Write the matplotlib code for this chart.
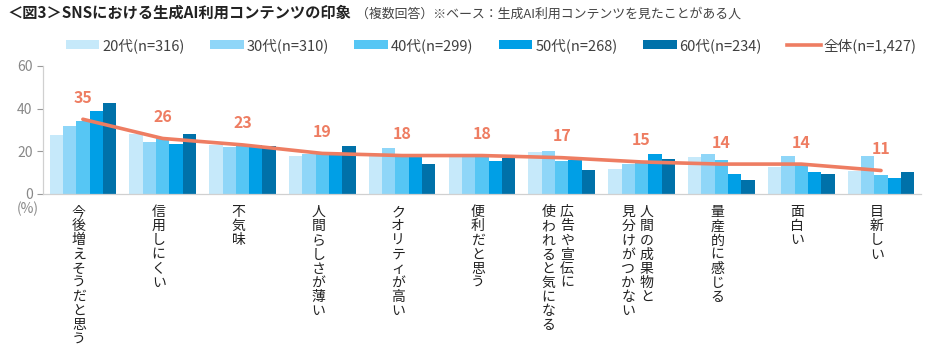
import numpy as np
import matplotlib
matplotlib.use("Agg")
import matplotlib.pyplot as plt
from matplotlib.patches import Patch
from matplotlib.lines import Line2D

plt.rcParams['font.family'] = ['Noto Sans CJK JP', 'DejaVu Sans']

categories = ['今後増えそうだと思う', '信用しにくい', '不気味', '人間らしさが薄い', 'クオリティが高い',
              '便利だと思う', '広告や宣伝に\n使われると気になる', '人間の成果物と\n見分けがつかない',
              '量産的に感じる', '面白い', '目新しい']
series_names = ['20代(n=316)', '30代(n=310)', '40代(n=299)', '50代(n=268)', '60代(n=234)']
age20 = [27.5, 28.0, 22.8, 17.7, 18.5, 17.5, 19.7, 11.6, 17.2, 12.8, 10.8]
age30 = [31.7, 24.4, 22.0, 18.5, 21.3, 17.5, 20.0, 13.9, 18.8, 18.0, 17.8]
age40 = [34.4, 26.0, 22.5, 18.9, 18.1, 17.5, 15.3, 15.0, 15.8, 13.5, 8.9]
age50 = [38.8, 23.2, 22.8, 18.9, 17.3, 15.5, 15.8, 18.8, 9.2, 10.3, 7.6]
age60 = [42.8, 28.0, 22.5, 22.5, 14.2, 16.9, 11.0, 16.6, 6.6, 9.2, 10.2]
total_name = '全体(n=1,427)'
total = [35, 26, 23, 19, 18, 18, 17, 15, 14, 14, 11]

colors = ['#C6E9FA', '#8FD6F8', '#56C6F4', '#009FE6', '#0071A9']
line_color = '#EE7D62'

fig = plt.figure(figsize=(9.34, 3.54), dpi=100)
ax = fig.add_axes([0.046, 0.452, 0.94, 0.362])

x = np.arange(len(categories))
w = 0.167
for s, vals in enumerate([age20, age30, age40, age50, age60]):
    ax.bar(x + (s - 2) * w, vals, width=w, color=colors[s], linewidth=0)

ax.plot(x, total, color=line_color, linewidth=2.6, solid_capstyle='round')
for xi, v in zip(x, total):
    ax.annotate(str(v), xy=(xi, v), xytext=(0, 15.5), textcoords='offset points',
                ha='center', va='center', fontsize=11.5, fontweight='bold', color=line_color)

ax.set_xlim(-0.5, len(categories) - 0.5)
ax.set_ylim(0, 60)
ax.set_yticks([0, 20, 40, 60])
ax.set_xticks([])
ax.tick_params(axis='y', colors='#999999', labelcolor='#888888', labelsize=10, length=4, width=0.8)
for sp in ['top', 'right']:
    ax.spines[sp].set_visible(False)
for sp in ['left', 'bottom']:
    ax.spines[sp].set_color('#D0D0D0')
    ax.spines[sp].set_linewidth(0.9)

# vertical (tategaki) category labels
pitch = 10.2
col_gap = 13.3
for i, lab in enumerate(categories):
    cols = lab.split('\n')
    n = len(cols)
    for j, col in enumerate(cols):
        dx = (n - 1) / 2 * col_gap - j * col_gap - 2.9
        for k, ch in enumerate(col):
            ax.annotate(ch, xy=(x[i], 0), xycoords=('data', 'axes fraction'),
                        xytext=(dx, -8 - k * pitch), textcoords='offset points',
                        ha='center', va='top', fontsize=10, color='#222222',
                        annotation_clip=False)

fig.text(0.030, 0.41, '(%)', ha='center', va='center', fontsize=10, color='#888888')

# title
fig.text(0.008, 0.963, '＜図3＞SNSにおける生成AI利用コンテンツの印象', ha='left', va='center',
         fontsize=11, fontweight='bold', color='#222222')
fig.text(0.381, 0.960, '（複数回答）※ベース：生成AI利用コンテンツを見たことがある人', ha='left',
         va='center', fontsize=9.3, color='#444444')

handles = [Patch(facecolor=c, edgecolor='none') for c in colors]
handles.append(Line2D([0], [0], color=line_color, linewidth=2.6))
fig.legend(handles, series_names + [total_name], loc='center', bbox_to_anchor=(0.526, 0.872),
           ncol=6, frameon=False, fontsize=10.5, handlelength=2.3, handleheight=0.6,
           handletextpad=0.2, columnspacing=1.75, labelcolor='#404040')

fig.savefig('out.png', dpi=100)
